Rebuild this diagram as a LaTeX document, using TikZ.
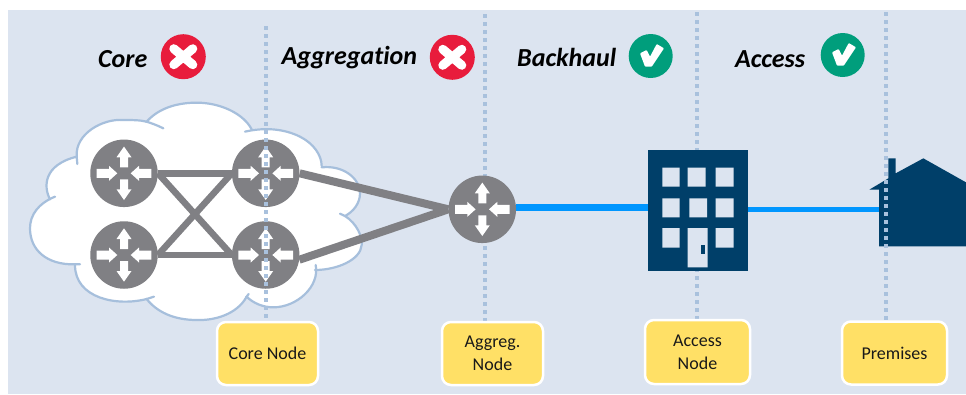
\documentclass[tikz,border=0pt]{standalone}
\usepackage{fontspec}
\setmainfont{Carlito}[Ligatures=CommonOff]
\definecolor{panel}{HTML}{DCE4F0}
\definecolor{dotc}{HTML}{A9C1DD}
\definecolor{cloudc}{HTML}{A6BFDC}
\definecolor{greyc}{HTML}{808084}
\definecolor{navy}{HTML}{003F69}
\definecolor{linkc}{HTML}{0096FF}
\definecolor{yel}{HTML}{FFE066}
\definecolor{redc}{HTML}{E81C3C}
\definecolor{greenc}{HTML}{009E7C}
\tikzset{
  routernode/.style={circle,fill=greyc,minimum size=67.5pt,inner sep=0pt},
  labelbox/.style={rectangle,rounded corners=9pt,draw=white,line width=2.5pt,fill=yel,minimum width=101pt,minimum height=63pt,align=center,font=\fontsize{18}{23}\selectfont,text=black!90},
  headtext/.style={font=\fontsize{26}{30}\selectfont\bfseries\itshape,text=black,inner sep=0pt},
  dotline/.style={draw=dotc,line width=4pt,dash pattern=on 4pt off 4pt},
  greylink/.style={draw=greyc,line width=6.5pt},
  thicklink/.style={draw=greyc,line width=8pt},
  bluelink/.style={draw=linkc},
  badred/.style={circle,fill=redc,minimum size=45pt,inner sep=0pt},
  badgreen/.style={circle,fill=greenc,minimum size=44pt,inner sep=0pt},
  lobe/.style={draw=cloudc,line width=2.2pt,line cap=round},
}
\newcommand{\routerarrows}[1]{%
  \foreach \ang in {0,180}{
    % left and right arrows point inward
    \fill[white,shift={(#1)},rotate=\ang]
      (6.7,0) -- (15,-7.5) -- (15,-4.5) -- (27.3,-4.5) -- (27.3,4.5) -- (15,4.5) -- (15,7.5) -- cycle;
  }%
  \foreach \ang in {90,270}{
    % up and down arrows point outward
    \fill[white,shift={(#1)},rotate=\ang]
      (26.7,0) -- (16,-7.5) -- (16,-4) -- (6,-4) -- (6,4) -- (16,4) -- (16,7.5) -- cycle;
  }%
}
\newcommand{\xmark}[1]{%
  \draw[white,line width=9pt,line cap=round,shift={(#1)}] (-9.5,-8) -- (9.5,8) (-9.5,8) -- (9.5,-8);%
}
\newcommand{\vmark}[1]{%
  \fill[white,shift={(#1)},rounded corners=0.8pt] (-10.7,-2.7) -- (-4,-6) -- (-0.7,0.7) -- (6,-12) -- (13.3,-7.7) -- (1,10.7) -- (-5.7,10.7) -- cycle;%
}
\begin{document}
\begin{tikzpicture}[x=1pt,y=-1pt]
\useasboundingbox (0,0) rectangle (966,394);
\fill[panel] (8,10) rectangle (966,394);

% cloud
\begin{scope}[shift={(0,90)},x=0.33333pt,y=-0.33333pt]
\fill[white] (440,95) .. controls (480,50) and (540,38) .. (590,38)
  .. controls (660,38) and (730,70) .. (755,118)
  .. controls (790,112) and (850,115) .. (900,140) .. controls (940,160) and (965,195) .. (965,232)
  .. controls (1030,225) and (1080,265) .. (1080,310) .. controls (1080,340) and (1060,365) .. (1035,378)
  .. controls (1070,400) and (1088,440) .. (1085,465) .. controls (1082,510) and (1010,540) .. (945,540)
  .. controls (960,590) and (890,652) .. (820,652) .. controls (790,652) and (760,640) .. (740,620)
  .. controls (710,675) and (640,692) .. (590,690) .. controls (520,690) and (470,665) .. (440,627)
  .. controls (350,650) and (225,625) .. (225,525)
  .. controls (140,525) and (90,480) .. (90,415) .. controls (90,375) and (115,340) .. (150,328)
  .. controls (130,290) and (130,225) .. (230,200)
  .. controls (225,130) and (310,85) .. (370,90) .. controls (395,90) and (420,90) .. (440,95) -- cycle;
\draw[lobe] (490,115) .. controls (470,105) and (455,100) .. (440,95) .. controls (480,50) and (540,38) .. (590,38)
  .. controls (660,38) and (730,70) .. (755,118);
\draw[lobe] (735,125) .. controls (790,112) and (850,115) .. (900,140) .. controls (940,160) and (965,195) .. (965,228);
\draw[lobe] (965,232) .. controls (1030,225) and (1080,265) .. (1080,310) .. controls (1080,340) and (1060,365) .. (1035,378) -- (1020,371);
\draw[lobe] (1035,378) .. controls (1070,400) and (1088,440) .. (1085,465) .. controls (1082,510) and (1010,540) .. (945,540);
\draw[lobe] (947,525) .. controls (960,590) and (890,652) .. (820,652) .. controls (790,652) and (760,640) .. (740,620) -- (746,612);
\draw[lobe] (740,620) .. controls (710,675) and (640,692) .. (590,690) .. controls (520,690) and (470,665) .. (440,627) -- (462,620);
\draw[lobe] (440,627) .. controls (350,650) and (225,625) .. (225,525);
\draw[lobe] (240,523) -- (225,523) .. controls (140,525) and (90,480) .. (90,415) .. controls (90,375) and (115,340) .. (165,320);
\draw[lobe] (150,328) .. controls (130,290) and (130,225) .. (230,200) -- (232,222);
\draw[lobe] (230,200) .. controls (225,130) and (310,85) .. (370,90) .. controls (395,90) and (420,90) .. (440,95);
\end{scope}

% dotted guides behind the aggregation router and building
\coordinate (g2a) at (485,14); \coordinate (g2b) at (485,322);
\coordinate (g3a) at (697,12); \coordinate (g3b) at (697,320);
\draw[dotline] (g2a) -- (g2b);
\draw[dotline] (g3a) -- (g3b);

% routers
\node[routernode] (r1) at (124,173.3) {};
\node[routernode] (r2) at (265.7,173.3) {};
\node[routernode] (r3) at (124,255) {};
\node[routernode] (r4) at (265.7,255) {};
\node[routernode] (ag) at (482.3,209.3) {};

% links
\draw[greylink] (r1) -- (r2);
\draw[greylink] (r3) -- (r4);
\draw[greylink] (r1.east) -- (r4.west);
\draw[greylink] (r3.east) -- (r2.west);
\draw[thicklink] (r2.east) -- (ag.west);
\draw[thicklink] (r4.-8) -- (ag.west);
\routerarrows{r1}\routerarrows{r2}\routerarrows{r3}\routerarrows{r4}\routerarrows{ag}

% building
\node[rectangle,fill=navy,minimum width=100pt,minimum height=121pt,inner sep=0pt] (bld) at (697.8,210.5) {};
\begin{scope}[shift={(430,140)},x=0.33333pt,y=-0.33333pt]
\fill[panel] (697,83) rectangle (749,140) (773,83) rectangle (827,140) (857,83) rectangle (911,140)
  (697,175) rectangle (749,232) (778,175) rectangle (831,232) (857,175) rectangle (911,232)
  (697,264) rectangle (749,323) (857,264) rectangle (911,323)
  (773,264) rectangle (833,382);
\fill[navy] (814,316) rectangle (824,341);
\end{scope}

% house
\begin{scope}[shift={(810,140)},x=0.33333pt,y=-0.33333pt]
\fill[navy] (178,149) -- (235,115) -- (235,55) -- (257,55) -- (257,100) -- (340,55) -- (468,127) -- (468,319) -- (207,319) -- (207,149) -- cycle;
\coordinate (hs) at (207,207.9);
\end{scope}

% blue links
\draw[bluelink,line width=7pt] (ag.east |- 0,207.7) -- (bld.west |- 0,207.7);
\draw[bluelink,line width=5pt] (bld.east |- hs) -- (hs);

% dotted guides on top
\coordinate (g1a) at (265.7,26); \coordinate (g1b) at (265.7,320);
\coordinate (g4a) at (886,12); \coordinate (g4b) at (886,320);
\draw[dotline] (g1a) -- (g1b);
\draw[dotline] (g4a) -- (g4b);

% headers
\node[headtext,anchor=base west] (h1) at (98,67) {Core};
\node[headtext,anchor=base west] (h2) at (281.5,64) {Aggregation};
\node[headtext,anchor=base west] (h3) at (517,66) {Backhaul};
\node[headtext,anchor=base west] (h4) at (735,67) {Access};
\node[badred] (b1) at (183.3,56.7) {}; \xmark{b1}
\node[badred] (b2) at (452.3,57.3) {}; \xmark{b2}
\node[badgreen] (b3) at (650.7,56) {}; \vmark{b3}
\node[badgreen] (b4) at (842.7,55) {}; \vmark{b4}

% labels
\node[labelbox] (l1) at (267.5,353.5) {Core Node};
\node[labelbox] (l2) at (492.5,353.5) {Aggreg.\\Node};
\node[labelbox,minimum width=105pt,minimum height=64pt] (l3) at (697.5,352) {Access\\Node};
\node[labelbox,minimum width=105pt,minimum height=63pt] (l4) at (894.5,353) {Premises};
\end{tikzpicture}
\end{document}
